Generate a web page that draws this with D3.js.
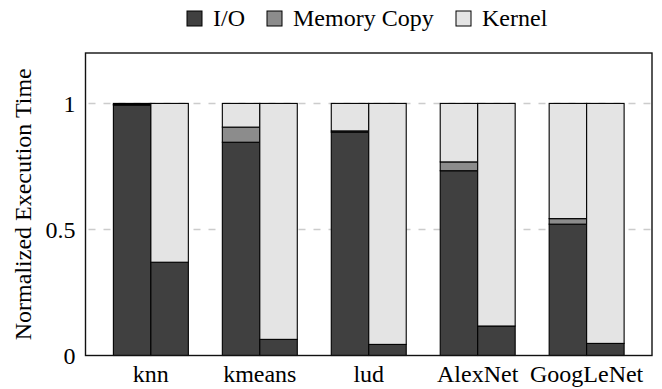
<!DOCTYPE html>
<html>
<head>
<meta charset="utf-8">
<script src="https://cdn.jsdelivr.net/npm/d3@7"></script>
<style>
  body { margin: 0; background: #fff; }
</style>
</head>
<body>
<svg id="chart" width="662" height="389"></svg>
<script>
/** * * * DATA * * * */
const categories = ['knn', 'kmeans', 'lud', 'AlexNet', 'GoogLeNet'];
const seriesNames = ['I/O', 'Memory Copy', 'Kernel'];
const seriesColors = ['#404040', '#8c8c8c', '#e4e4e4'];
// left bar of each pair
const ioLeft = [0.993, 0.846, 0.886, 0.733, 0.521];
const memLeft = [0.003, 0.060, 0.005, 0.035, 0.022];
const kernelLeft = [0.004, 0.094, 0.109, 0.232, 0.457];
// right bar of each pair
const ioRight = [0.370, 0.064, 0.044, 0.117, 0.048];
const memRight = [0, 0, 0, 0, 0];
const kernelRight = [0.630, 0.936, 0.956, 0.883, 0.952];
const yTicks = [0, 0.5, 1];
const yTickLabels = ['0', '0.5', '1'];

/** * * * LAYOUT * * * */
const plot = { left: 85.5, right: 652, top: 53, bottom: 355.5 };
const barW = 0.344; // in category units
const serif = 'Liberation Serif';
const fontSize = 24;

const svg = d3.select('#chart');

const x = d3.scaleLinear()
  .domain([-0.6, categories.length - 0.4])
  .range([plot.left, plot.right]);
const y = d3.scaleLinear()
  .domain([0, 1.2])
  .range([plot.bottom, plot.top]);

// build rows, one per bar
let rows = [];
categories.forEach(function(c, i) {
  rows.push({ cat: i, side: -1, 'I/O': ioLeft[i], 'Memory Copy': memLeft[i], 'Kernel': kernelLeft[i] });
  rows.push({ cat: i, side: 0, 'I/O': ioRight[i], 'Memory Copy': memRight[i], 'Kernel': kernelRight[i] });
});
const stacked = d3.stack().keys(seriesNames)(rows);

// grid lines
svg.append('g')
  .selectAll('line')
  .data(yTicks.filter(function(t) { return t > 0; }))
  .enter()
  .append('line')
  .attr('x1', plot.left)
  .attr('x2', plot.right)
  .attr('y1', function(d) { return y(d); })
  .attr('y2', function(d) { return y(d); })
  .attr('stroke', '#cccccc')
  .attr('stroke-width', 1.5)
  .attr('stroke-dasharray', '7,8')
  .attr('stroke-dashoffset', -3);

// bars
stacked.forEach(function(layer, k) {
  svg.append('g')
    .selectAll('rect')
    .data(layer.filter(function(d) { return d[1] - d[0] > 0; }))
    .enter()
    .append('rect')
    .attr('x', function(d) { return x(d.data.cat + d.data.side * barW); })
    .attr('width', x(barW) - x(0))
    .attr('y', function(d) { return y(d[1]); })
    .attr('height', function(d) { return y(d[0]) - y(d[1]); })
    .attr('fill', seriesColors[k])
    .attr('stroke', '#000')
    .attr('stroke-width', 1.1);
});

// frame
svg.append('rect')
  .attr('x', plot.left)
  .attr('y', plot.top)
  .attr('width', plot.right - plot.left)
  .attr('height', plot.bottom - plot.top)
  .attr('fill', 'none')
  .attr('stroke', '#111')
  .attr('stroke-width', 1.4);

// y axis labels
const yAxis = svg.append('g')
  .attr('transform', `translate(${plot.left - 10},0)`)
  .call(d3.axisLeft(y).tickValues(yTicks).tickSize(0)
    .tickFormat(function(d, i) { return yTickLabels[i]; }));
yAxis.select('.domain').remove();
yAxis.attr('font-family', serif).attr('font-size', fontSize);
yAxis.selectAll('text')
  .attr('x', 0)
  .attr('dy', '0.34em')
  .attr('fill', '#000');

// x category labels
svg.append('g')
  .selectAll('text')
  .data(categories)
  .enter()
  .append('text')
  .attr('x', function(d, i) { return x(i); })
  .attr('y', 382)
  .attr('text-anchor', 'middle')
  .attr('font-family', serif)
  .attr('font-size', fontSize)
  .text(function(d) { return d; });

// y title
svg.append('text')
  .attr('transform', `translate(31,${(plot.top + plot.bottom) / 2}) rotate(-90)`)
  .attr('text-anchor', 'middle')
  .attr('font-family', serif)
  .attr('font-size', fontSize)
  .text('Normalized Execution Time');

// legend
const legendX = [187, 267, 456];
const legend = svg.append('g');
seriesNames.forEach(function(name, k) {
  legend.append('rect')
    .attr('x', legendX[k])
    .attr('y', 11)
    .attr('width', 15)
    .attr('height', 15)
    .attr('fill', seriesColors[k])
    .attr('stroke', '#000')
    .attr('stroke-width', 1);
  legend.append('text')
    .attr('x', legendX[k] + 26)
    .attr('y', 26)
    .attr('font-family', serif)
    .attr('font-size', fontSize)
    .text(name);
});
</script>
</body>
</html>
